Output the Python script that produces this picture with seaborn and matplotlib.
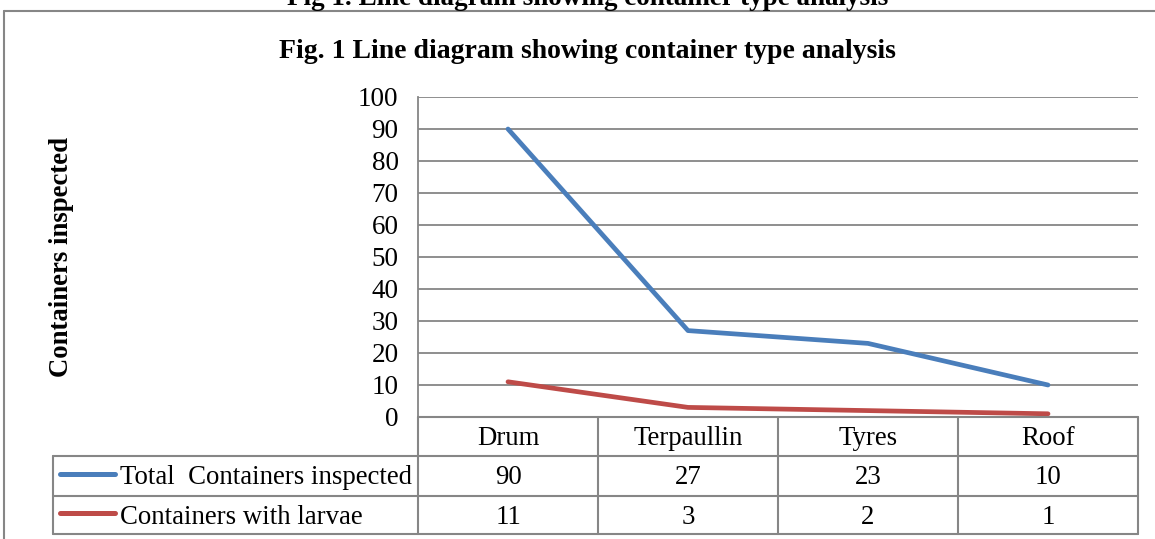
import matplotlib
matplotlib.use("Agg")
import matplotlib.pyplot as plt
import seaborn as sns
import pandas as pd
from matplotlib.lines import Line2D

# data
categories = ["Drum", "Terpaullin", "Tyres", "Roof"]
total_inspected = [90, 27, 23, 10]
with_larvae = [11, 3, 2, 1]
series_names = ["Total  Containers inspected", "Containers with larvae"]
series_colors = ["#4A7EBB", "#BE4B48"]

df = pd.DataFrame({
    "container": categories * 2,
    "pos": list(range(len(categories))) * 2,
    "count": total_inspected + with_larvae,
    "series": [series_names[0]] * 4 + [series_names[1]] * 4,
})

sns.set_style("white")
plt.rcParams["font.family"] = ["Liberation Serif", "DejaVu Serif"]
plt.rcParams["text.color"] = "black"
plt.rcParams["axes.labelcolor"] = "black"
plt.rcParams["ytick.color"] = "black"

W, H = 1155, 539
fig = plt.figure(figsize=(W / 100, H / 100), dpi=100)
fig.patch.set_facecolor("white")

grid_col = "#868686"

# plot area in pixels: x 418..1138, y 97..417
px_l, px_r, px_t, px_b = 418, 1138, 97, 417
ax = fig.add_axes([px_l / W, 1 - px_b / H, (px_r - px_l) / W, (px_b - px_t) / H])

sns.lineplot(data=df, x="pos", y="count", hue="series",
             palette=dict(zip(series_names, series_colors)),
             linewidth=3.4, legend=False, ax=ax,
             solid_capstyle="round", solid_joinstyle="round")

ax.set_xlim(-0.5, len(categories) - 0.5)
ax.set_ylim(0, 100)
ax.set_yticks(range(0, 101, 10))
ax.set_xticks([])
ax.tick_params(axis="y", length=0, pad=14, labelsize=19.5)
ax.grid(axis="y", color=grid_col, linewidth=1.3)
ax.set_axisbelow(True)
for s in ["top", "right", "bottom"]:
    ax.spines[s].set_visible(False)
ax.spines["left"].set_color(grid_col)
ax.spines["left"].set_linewidth(1.3)
ax.set_xlabel("")
ax.set_ylabel("Containers inspected", fontsize=19.3, fontweight="bold", labelpad=0)
ax.yaxis.set_label_coords((74 - px_l) / (px_r - px_l), 0.5)

# overlay in pixel coordinates for the frame and captions
ov = fig.add_axes([0, 0, 1, 1], zorder=-1)
ov.set_xlim(0, W)
ov.set_ylim(H, 0)
ov.axis("off")

# outer chart frame
ov.plot([4, 4], [11, H + 5], color=grid_col, lw=1.5)
ov.plot([4, W + 5], [11, 11], color=grid_col, lw=1.5)

# caption clipped at the top edge, then the chart title
ov.text(588, 5, "Fig 1. Line diagram showing container type analysis",
        ha="center", va="baseline", fontsize=19.5, fontweight="bold")
ov.text(587, 52, "Fig. 1 Line diagram showing container type analysis",
        ha="center", va="center", fontsize=20, fontweight="bold")

# data table
col_w = (px_r - px_l) / len(categories)
row_y = [417, 456, 496, 534]
leg_l = 53
tbl = dict(color=grid_col, lw=1.5, zorder=5)
ax2 = fig.add_axes([0, 0, 1, 1], zorder=3)
ax2.set_xlim(0, W)
ax2.set_ylim(H, 0)
ax2.axis("off")
for y in row_y[1:]:
    ax2.plot([leg_l, px_r], [y, y], **tbl)
ax2.plot([px_l, px_r], [row_y[0], row_y[0]], **tbl)
ax2.plot([leg_l, leg_l], [row_y[1], row_y[3]], **tbl)
for i in range(len(categories) + 1):
    x = px_l + i * col_w
    ax2.plot([x, x], [row_y[0], row_y[3]], **tbl)

fs = 19.3
for i, cat in enumerate(categories):
    cx = px_l + (i + 0.5) * col_w
    ax2.text(cx, (row_y[0] + row_y[1]) / 2 + 2, cat, ha="center", va="center", fontsize=fs)
    ax2.text(cx, (row_y[1] + row_y[2]) / 2 + 2, str(total_inspected[i]), ha="center", va="center", fontsize=fs)
    ax2.text(cx, (row_y[2] + row_y[3]) / 2 + 2, str(with_larvae[i]), ha="center", va="center", fontsize=fs)

for r, (name, col) in enumerate(zip(series_names, series_colors)):
    yc = (row_y[r + 1] + row_y[r + 2]) / 2
    ax2.add_line(Line2D([60, 115], [yc - 2, yc - 2], color=col, lw=3.6, solid_capstyle="round"))
    ax2.text(120, yc + 2, name, ha="left", va="center", fontsize=fs)

fig.savefig("out.png", dpi=100)
